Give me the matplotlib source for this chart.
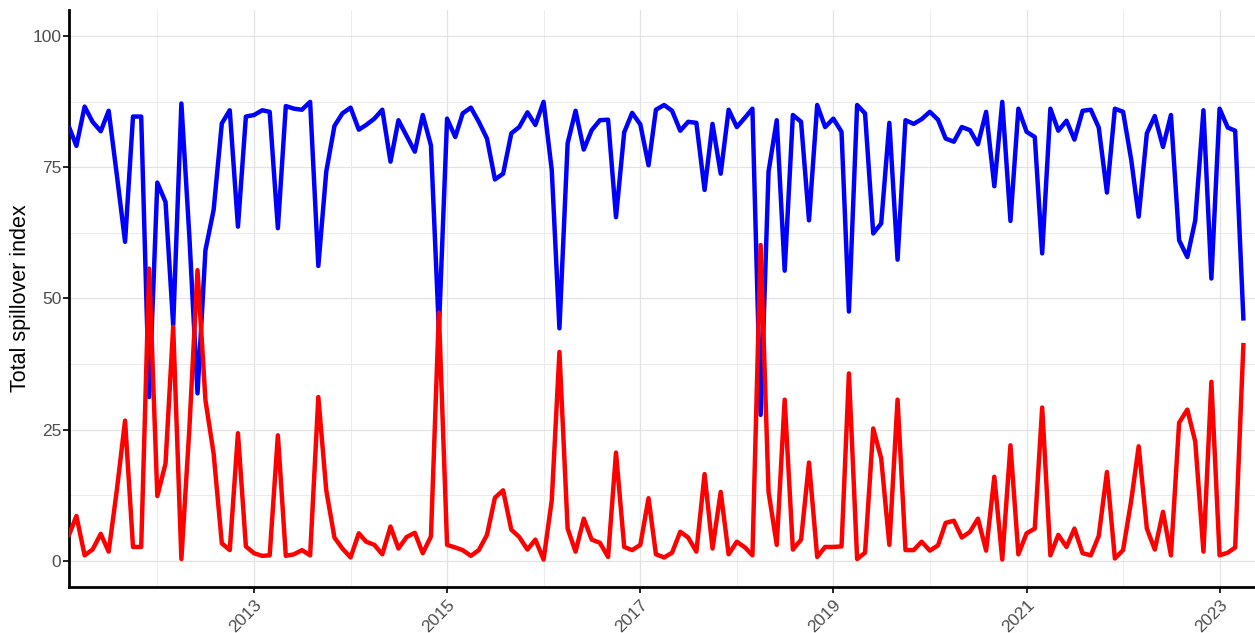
import numpy as np
import pandas as pd
import matplotlib
matplotlib.use("Agg")
import matplotlib.pyplot as plt
import matplotlib.dates as mdates

plt.rcParams['font.family'] = ['Liberation Sans', 'DejaVu Sans']

# monthly series, Feb 2011 .. Apr 2023
blue = [82.7, 79.1, 86.6, 83.7, 81.9, 85.8, 73.5, 60.8, 84.7, 84.7,
        31.2, 72.1, 68.4, 44.9, 87.2, 62.0, 31.9, 59.2, 66.9, 83.4,
        85.9, 63.7, 84.7, 85.0, 85.9, 85.6, 63.4, 86.7, 86.2, 86.0,
        87.5, 56.2, 74.2, 82.9, 85.3, 86.4, 82.2, 83.1, 84.3, 86.0,
        76.1, 84.0, 81.0, 78.0, 85.0, 79.2, 44.0, 84.3, 80.8, 85.3,
        86.4, 83.7, 80.5, 72.7, 73.8, 81.5, 82.7, 85.5, 83.1, 87.5,
        74.5, 44.3, 79.6, 85.8, 78.4, 82.1, 84.0, 84.1, 65.5, 81.7,
        85.4, 83.2, 75.4, 86.0, 86.9, 85.8, 82.0, 83.7, 83.5, 70.7,
        83.3, 73.8, 86.0, 82.7, 84.5, 86.2, 27.8, 74.2, 84.0, 55.3,
        85.0, 83.7, 64.9, 86.9, 82.7, 84.3, 81.8, 47.5, 86.9, 85.3,
        62.4, 64.3, 83.5, 57.4, 84.0, 83.3, 84.2, 85.6, 84.1, 80.5,
        79.9, 82.7, 82.1, 79.4, 85.6, 71.4, 87.5, 64.8, 86.2, 81.8,
        80.8, 58.6, 86.2, 82.0, 83.9, 80.3, 85.8, 86.0, 82.6, 70.2,
        86.2, 85.6, 76.4, 65.6, 81.5, 84.8, 78.9, 85.0, 61.1, 57.9,
        64.9, 85.9, 53.8, 86.2, 82.6, 82.0, 46.2]

red = [4.9, 8.5, 1.0, 2.1, 5.1, 1.7, 13.5, 26.7, 2.6, 2.6,
       55.7, 12.3, 18.5, 44.6, 0.3, 25.0, 55.4, 30.6, 20.4, 3.3,
       2.0, 24.3, 2.7, 1.4, 0.9, 1.0, 23.9, 0.9, 1.2, 2.0,
       1.0, 31.2, 13.4, 4.4, 2.3, 0.6, 5.2, 3.6, 3.0, 1.2,
       6.5, 2.3, 4.5, 5.3, 1.4, 4.6, 47.3, 3.0, 2.5, 2.0,
       0.9, 2.0, 4.9, 12.0, 13.4, 5.9, 4.5, 2.1, 4.0, 0.2,
       11.5, 39.8, 6.1, 1.7, 8.0, 4.0, 3.4, 0.7, 20.6, 2.6,
       2.0, 3.0, 11.9, 1.2, 0.6, 1.5, 5.5, 4.4, 1.7, 16.5,
       2.3, 13.1, 1.2, 3.6, 2.5, 1.0, 60.2, 13.1, 3.0, 30.7,
       2.1, 4.0, 18.7, 0.7, 2.6, 2.6, 2.7, 35.7, 0.3, 1.5,
       25.2, 19.5, 3.0, 30.7, 2.0, 2.0, 3.6, 1.9, 2.9, 7.2,
       7.6, 4.4, 5.5, 8.0, 1.9, 16.0, 0.2, 22.0, 1.2, 5.2,
       6.1, 29.2, 1.0, 4.9, 2.6, 6.1, 1.4, 1.0, 4.7, 16.9,
       0.4, 2.0, 11.5, 21.8, 6.1, 2.1, 9.3, 1.0, 26.3, 28.8,
       22.7, 1.7, 34.1, 1.0, 1.5, 2.5, 41.1]

dates = pd.date_range('2011-02-01', periods=len(blue), freq='MS')
major_years = [2013, 2015, 2017, 2019, 2021, 2023]
minor_years = [2012, 2014, 2016, 2018, 2020, 2022]
y_ticks = [0, 25, 50, 75, 100]

fig = plt.figure(figsize=(12.55, 6.33), dpi=100)
ax = fig.add_axes([0.055, 0.073, 0.945, 0.911])

ax.plot(dates, blue, color='#0000FF', linewidth=3.2, zorder=3)
ax.plot(dates, red, color='#FF0000', linewidth=3.2, zorder=4)

ax.set_xlim(pd.Timestamp('2011-02-01'), pd.Timestamp('2023-05-15'))
ax.set_ylim(-5, 105)

ax.set_xticks([pd.Timestamp(f'{y}-01-01') for y in major_years])
ax.set_xticks([pd.Timestamp(f'{y}-01-01') for y in minor_years], minor=True)
ax.xaxis.set_major_formatter(mdates.DateFormatter('%Y'))
ax.set_yticks(y_ticks)
ax.set_yticks([12.5, 37.5, 62.5, 87.5], minor=True)

ax.grid(True, which='major', color='#e3e3e3', linewidth=0.9, zorder=0)
ax.grid(True, which='minor', color='#ececec', linewidth=0.7, zorder=0)
ax.set_axisbelow(True)

for s in ['top', 'right']:
    ax.spines[s].set_visible(False)
for s in ['left', 'bottom']:
    ax.spines[s].set_linewidth(2)
    ax.spines[s].set_color('black')

ax.tick_params(axis='both', which='major', length=4, width=1.2, colors='black',
               labelcolor='#4D4D4D', labelsize=12.5)
ax.tick_params(axis='y', which='major', pad=1.5)
ax.tick_params(axis='both', which='minor', length=0)
for lab in ax.get_xticklabels():
    lab.set_rotation(45)
    lab.set_ha('right')
    lab.set_va('top')
    lab.set_rotation_mode('anchor')

ax.set_ylabel('Total spillover index', fontsize=15.5, color='black')
ax.yaxis.set_label_coords(-0.032, 0.5)

fig.savefig('out.png', dpi=100)
